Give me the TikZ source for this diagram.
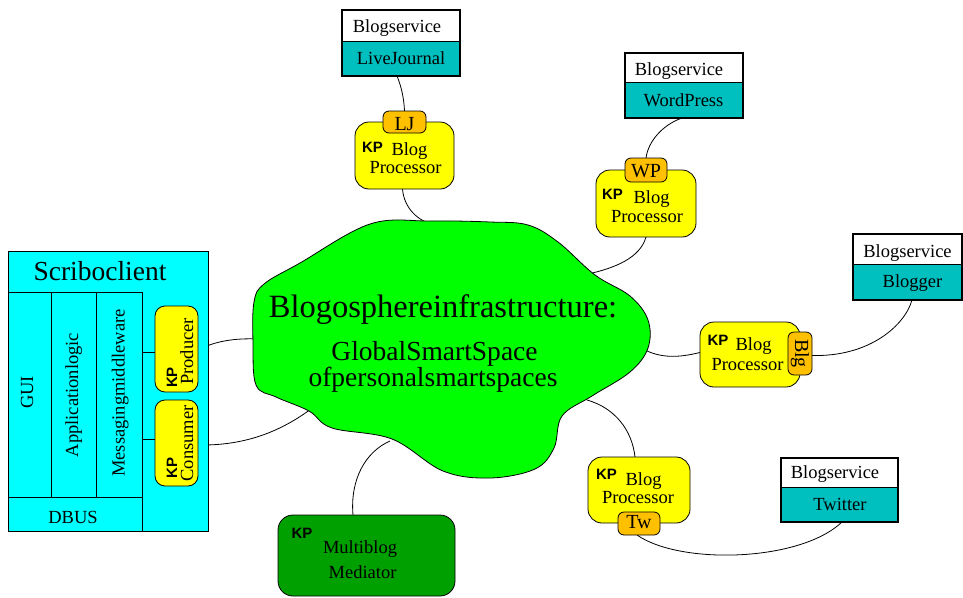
\documentclass[tikz,border=0pt]{standalone}
\usepackage{fontspec}
\setmainfont{Liberation Serif}
\newfontfamily\kpfont{Liberation Sans}
\usetikzlibrary{backgrounds}
\definecolor{scribocyan}{RGB}{0,255,255}
\definecolor{kpyellow}{RGB}{255,255,0}
\definecolor{tagorange}{RGB}{255,192,0}
\definecolor{cloudgreen}{RGB}{0,255,0}
\definecolor{mbgreen}{RGB}{0,160,0}
\definecolor{svcteal}{RGB}{0,191,191}
\begin{document}
\begin{tikzpicture}[x=1pt,y=-1pt,
  box/.style={draw, line width=0.8pt, inner sep=0pt, outer sep=0pt},
  txt/.style={font=\fontsize{18.5}{20}\selectfont, inner sep=0pt, anchor=base},
  tagtxt/.style={font=\fontsize{20}{22}\selectfont, inner sep=0pt, anchor=base},
  kp/.style={font=\kpfont\bfseries\fontsize{15}{16}\selectfont, inner sep=0pt, anchor=base},
  proc/.style={box, fill=kpyellow, rounded corners=14pt},
  tagbox/.style={box, fill=tagorange, rounded corners=6pt},
  svctop/.style={inner sep=0pt, outer sep=0pt, fill=white},
  svcbot/.style={inner sep=0pt, outer sep=0pt, fill=svcteal},
  svcline/.style={draw, line width=2pt},
  conn/.style={line width=0.8pt}
]
\useasboundingbox (0,0) rectangle (963,597);

% ---------- Scriboclient ----------
\node[box, fill=scribocyan, minimum width=200pt, minimum height=280pt] (scribo) at (108,391) {};
\node[txt, font=\fontsize{27.5}{30}\selectfont] (scrt) at (100,280) {Scriboclient};
\node[box, minimum width=43pt, minimum height=205pt] (gui) at (29.5,394.5) {};
\node[box, minimum width=45pt, minimum height=205pt] (app) at (73.5,394.5) {};
\node[box, minimum width=46pt, minimum height=205pt] (msg) at (119,394.5) {};
\node[box, minimum width=134pt, minimum height=34pt] (dbus) at (75,514) {};
\node[txt, rotate=90] (guit) at (33,392.5) {GUI};
\node[txt, rotate=90] (appt) at (78,395) {Applicationlogic};
\node[txt, rotate=90] (msgt) at (124.5,393) {Messagingmiddleware};
\node[txt] (dbust) at (73,523) {DBUS};

\node[box, fill=kpyellow, rounded corners=10pt, minimum width=43pt, minimum height=86pt] (prod) at (176.5,349) {};
\node[box, fill=kpyellow, rounded corners=10pt, minimum width=43pt, minimum height=86pt] (cons) at (176.5,443) {};
\node[txt, rotate=90] (prodt) at (193,351.5) {Producer};
\node[kp, rotate=90] (prodk) at (177,377.5) {KP};
\node[txt, rotate=90] (const) at (193,443.5) {Consumer};
\node[kp, rotate=90] (consk) at (177,468) {KP};
\draw[conn] ([yshift=-3pt]prod.west -| msg.east) -- ([yshift=-3pt]prod.west);
\draw[conn] ([yshift=4pt]cons.west -| msg.east) -- ([yshift=4pt]cons.west);

% ---------- Cloud ----------
\draw[fill=cloudgreen, line width=0.8pt] plot[smooth cycle, tension=0.6] coordinates {
 (254,302) (264,284) (300,263) (370,224) (430,221) (490,222) (528,225) (558,242)
 (595,275) (630,296) (648,320) (648,348) (630,372) (592,396) (562,416) (554,448)
 (535,469) (490,478) (443,471) (392,439) (332,428) (309,411) (276,397) (256,385)
 (253,342)};
\coordinate (cl1) at (258,339);
\coordinate (cl2) at (311,409);
\coordinate (cl3) at (436,225);
\coordinate (cl4) at (588,274);
\coordinate (cl5) at (645,350);
\coordinate (cl6) at (587,400);
\coordinate (cl7) at (390,441);
\node[txt, font=\fontsize{32.5}{34}\selectfont] (cloudt1) at (443,317) {Blogosphereinfrastructure:};
\node[txt, font=\fontsize{27.5}{29}\selectfont] (cloudt2) at (434.5,360) {GlobalSmartSpace};
\node[txt, font=\fontsize{27.5}{29}\selectfont] (cloudt3) at (433,386) {ofpersonalsmartspaces};

% ---------- LiveJournal ----------
\node[svctop, minimum width=118pt, minimum height=31pt] (ljtop) at (401,25.5) {};
\node[svcbot, minimum width=118pt, minimum height=35pt] (ljbot) at (401,58.5) {};
\draw[svcline] (ljtop.north west) rectangle (ljbot.south east);
\draw[line width=1pt] (ljtop.south west) -- (ljtop.south east);
\node[txt] (ljs1) at (397,32) {Blogservice};
\node[txt] (ljs2) at (401,64) {LiveJournal};
\node[proc, minimum width=99pt, minimum height=67pt] (ljp) at (404.5,155.5) {};
\node[tagbox, minimum width=43pt, minimum height=22pt] (ljt) at (404.5,122) {};
\node[tagtxt] (ljtt) at (404.5,130) {LJ};
\node[kp] (ljk) at (372.5,152) {KP};
\node[txt] (ljb) at (409.5,155) {Blog};
\node[txt] (ljpr) at (405.5,173) {Processor};

% ---------- WordPress ----------
\node[svctop, minimum width=118pt, minimum height=29pt] (wptop) at (684,67.5) {};
\node[svcbot, minimum width=118pt, minimum height=36pt] (wpbot) at (684,100) {};
\draw[svcline] (wptop.north west) rectangle (wpbot.south east);
\draw[line width=1pt] (wptop.south west) -- (wptop.south east);
\node[txt] (wps1) at (679,75) {Blogservice};
\node[txt] (wps2) at (683.5,106) {WordPress};
\node[proc, minimum width=100pt, minimum height=67pt] (wpp) at (646,203.5) {};
\node[tagbox, minimum width=42pt, minimum height=24pt] (wpt) at (646,170) {};
\node[tagtxt] (wptt) at (646,177) {WP};
\node[kp] (wpk) at (612.5,199) {KP};
\node[txt] (wpb) at (651.5,203) {Blog};
\node[txt] (wppr) at (647,222) {Processor};

% ---------- Blogger ----------
\node[svctop, minimum width=109pt, minimum height=30pt] (bltop) at (907.5,249) {};
\node[svcbot, minimum width=109pt, minimum height=36pt] (blbot) at (907.5,282) {};
\draw[svcline] (bltop.north west) rectangle (blbot.south east);
\draw[line width=1pt] (bltop.south west) -- (bltop.south east);
\node[txt] (bls1) at (907.5,257) {Blogservice};
\node[txt] (bls2) at (912.5,287) {Blogger};
\node[proc, minimum width=100pt, minimum height=65pt] (blp) at (750,354.5) {};
\node[tagbox, minimum width=24pt, minimum height=43pt] (blt) at (800,353.5) {};
\node[tagtxt, rotate=-90, anchor=center] (bltt) at (800,353.5) {Blg};
\node[kp] (blk) at (718,345) {KP};
\node[txt] (blb) at (753.5,350) {Blog};
\node[txt] (blpr) at (747.5,370) {Processor};

% ---------- Twitter ----------
\node[svctop, minimum width=117pt, minimum height=29pt] (twtop) at (839.5,472.5) {};
\node[svcbot, minimum width=117pt, minimum height=35pt] (twbot) at (839.5,504.5) {};
\draw[svcline] (twtop.north west) rectangle (twbot.south east);
\draw[line width=1pt] (twtop.south west) -- (twtop.south east);
\node[txt] (tws1) at (835,478) {Blogservice};
\node[txt] (tws2) at (840,510) {Twitter};
\node[proc, minimum width=102pt, minimum height=66pt] (twp) at (639,490) {};
\node[tagbox, minimum width=42pt, minimum height=23pt] (twt) at (639,523.5) {};
\node[tagtxt] (twtt) at (639,528) {Tw};
\node[kp] (twk) at (606.5,479) {KP};
\node[txt] (twb) at (643.5,485) {Blog};
\node[txt] (twpr) at (638,503) {Processor};

% ---------- Multiblog Mediator ----------
\node[box, fill=mbgreen, rounded corners=15pt, minimum width=177pt, minimum height=81pt] (mb) at (366.5,555.5) {};
\node[kp] (mbk) at (302,538) {KP};
\node[txt] (mbt1) at (360,553) {Multiblog};
\node[txt] (mbt2) at (362.5,578) {Mediator};

% ---------- Connectors ----------
\begin{pgfonlayer}{background}
\draw[conn] ([yshift=-1pt]prod.east) .. controls (215,341) and (235,338) .. (cl1);
\draw[conn] ([yshift=-2pt]cons.east) .. controls (250,446) and (285,428) .. (cl2);
\draw[conn] ([xshift=-4pt]ljbot.south) .. controls (402,88) and (404,100) .. (ljt.north);
\draw[conn] ([xshift=-2pt]ljp.south) .. controls (404,208) and (418,222) .. (cl3);
\draw[conn] ([xshift=-2pt]wpbot.south) .. controls (662,125) and (648,142) .. (wpt.north);
\draw[conn] (wpp.south) .. controls (640,258) and (615,268) .. (cl4);
\draw[conn] ([yshift=-2pt]blt.east) .. controls (870,357) and (905,325) .. ([xshift=4.5pt]blbot.south);
\draw[conn] (cl5) .. controls (665,360) and (685,356) .. ([yshift=2pt]blp.west);
\draw[conn] (cl6) .. controls (615,408) and (632,430) .. ([xshift=-4pt]twp.north);
\draw[conn] ([xshift=-2pt]twt.south) .. controls (680,565) and (800,562) .. ([xshift=2.5pt]twbot.south);
\draw[conn] ([xshift=-13.5pt]mb.north) .. controls (350,480) and (365,452) .. (cl7);
\end{pgfonlayer}
\end{tikzpicture}
\end{document}
